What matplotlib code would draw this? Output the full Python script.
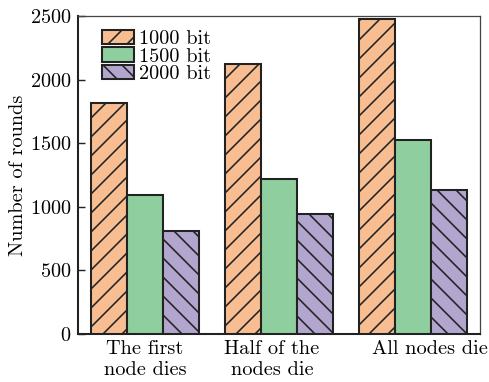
import numpy as np
import matplotlib
matplotlib.use("Agg")
import matplotlib.pyplot as plt
from matplotlib.transforms import ScaledTranslation

plt.rcParams['font.family'] = 'serif'
plt.rcParams['font.serif'] = ['cmr10']
plt.rcParams['axes.formatter.use_mathtext'] = True
plt.rcParams['hatch.linewidth'] = 1.0

DPI = 114

stages = ["The first\nnode dies", "Half of the\nnodes die", "All nodes die"]
series = ["1000 bit", "1500 bit", "2000 bit"]
rounds_1000 = [1815, 2125, 2475]
rounds_1500 = [1090, 1220, 1525]
rounds_2000 = [810, 945, 1130]

colors = ["#f8be92", "#8fce9e", "#b2a6cf"]
hatches = ["//", "", "\\\\"]
edge = "#222222"

fig = plt.figure(figsize=(489 / DPI, 382 / DPI), dpi=DPI)
ax = fig.add_axes([78 / 489, 48 / 382, 402 / 489, 318 / 382])

x = np.arange(len(stages))
w = 0.27
for i, vals in enumerate([rounds_1000, rounds_1500, rounds_2000]):
    ax.bar(x + (i - 1) * w, vals, w, color=colors[i], edgecolor=edge,
           linewidth=1.3, hatch=hatches[i], label=series[i], zorder=3)

ax.set_xlim(-0.5, 2.5)
ax.set_ylim(0, 2500)
ax.set_yticks([0, 500, 1000, 1500, 2000, 2500])
ax.set_xticks(x)
ax.set_xticklabels(stages, fontsize=12.8)
ax.tick_params(axis='y', labelsize=12.8)
ax.tick_params(direction='in', length=4.4, width=0.9, color=edge, pad=4.0)
ax.set_ylabel("Number of rounds", fontsize=12.8, labelpad=2)

for side in ['left', 'bottom']:
    ax.spines[side].set_linewidth(1.3)
    ax.spines[side].set_color(edge)
for side in ['top', 'right']:
    ax.spines[side].set_linewidth(0.8)
    ax.spines[side].set_color("#444444")

# nudge the two right-hand category labels sideways
shifts = [0, -7, 17]
for lab, dx in zip(ax.get_xticklabels(), shifts):
    lab.set_transform(lab.get_transform() + ScaledTranslation(dx / DPI, 0, fig.dpi_scale_trans))

ax.legend(loc='upper left', bbox_to_anchor=(0.06, 0.955), frameon=False,
          fontsize=12.8, borderpad=0, borderaxespad=0, labelspacing=-0.05,
          handlelength=1.55, handleheight=0.7, handletextpad=0.25)

fig.savefig("out.png", dpi=DPI)
